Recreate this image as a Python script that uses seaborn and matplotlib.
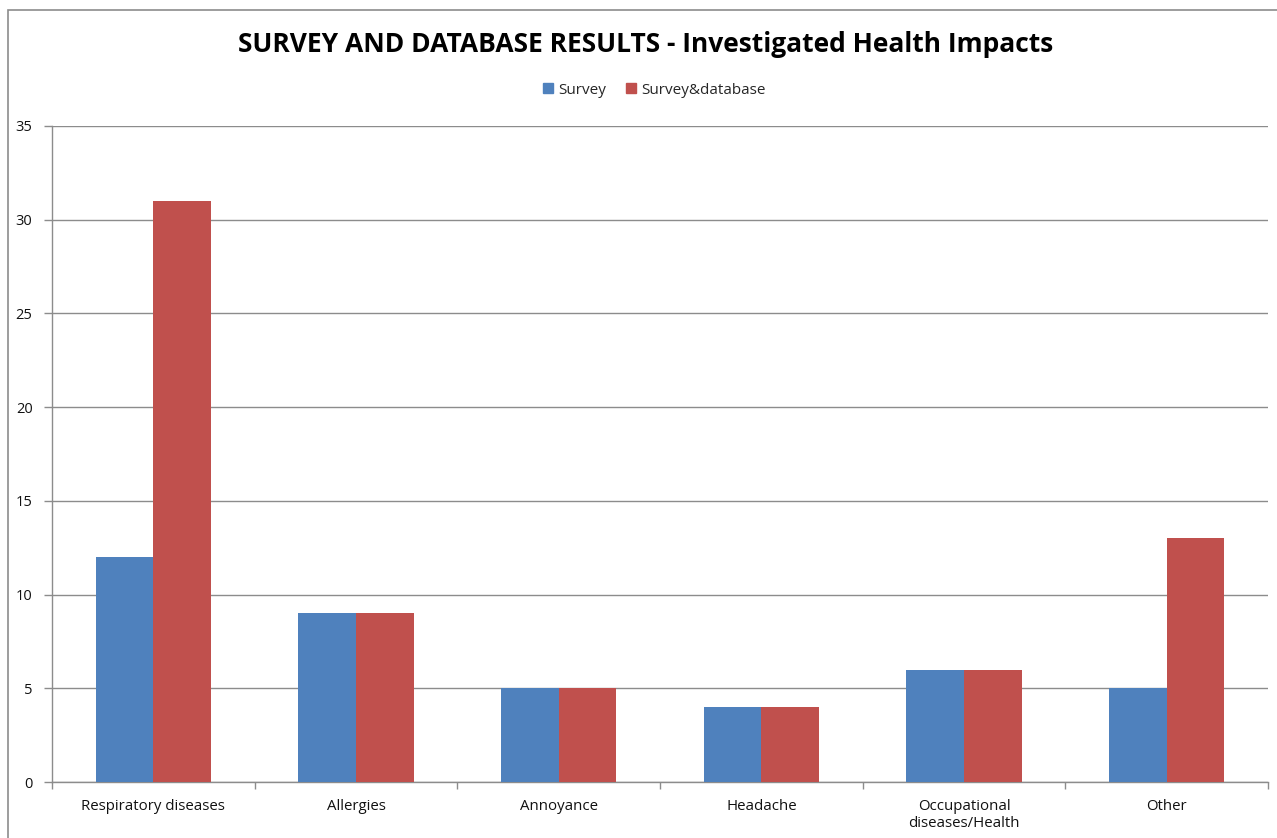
import matplotlib
matplotlib.use("Agg")
import matplotlib.pyplot as plt
from matplotlib.patches import Rectangle
import numpy as np
import pandas as pd
import seaborn as sns

categories = ["Respiratory diseases", "Allergies", "Annoyance", "Headache",
              "Occupational\ndiseases/Health", "Other"]
survey = [12, 9, 5, 4, 6, 5]
survey_database = [31, 9, 5, 4, 6, 13]
series_names = ["Survey", "Survey&database"]
y_ticks = [0, 5, 10, 15, 20, 25, 30, 35]
title = "SURVEY AND DATABASE RESULTS - Investigated Health Impacts"

df = pd.DataFrame({
    "category": categories * 2,
    "value": survey + survey_database,
    "series": [series_names[0]] * len(categories) + [series_names[1]] * len(categories),
})

sns.set_theme(style="white")
plt.rcParams["font.family"] = ["Open Sans", "DejaVu Sans"]

fig = plt.figure(figsize=(12.77, 8.38), dpi=100)
W, H = 1277, 838
ax = fig.add_axes([52 / W, 1 - 782 / H, (1268 - 52) / W, (782 - 126) / H])

palette = {"Survey": "#4F81BD", "Survey&database": "#C0504D"}
sns.barplot(data=df, x="category", y="value", hue="series", palette=palette,
            width=0.57, saturation=1, ax=ax, legend=False, zorder=3, linewidth=0)

ax.set_xlim(-0.5, len(categories) - 0.5)
ax.set_ylim(0, 35)
ax.set_yticks(y_ticks)
ax.set_yticklabels([str(t) for t in y_ticks], fontsize=10.5, color="#111111")
ax.yaxis.grid(True, color="#8c8c8c", linewidth=1, zorder=0)
ax.xaxis.grid(False)
ax.set_xlabel("")
ax.set_ylabel("")
ax.set_xticks(range(len(categories)))
ax.set_xticklabels(categories, fontsize=10.8, color="#111111", linespacing=1.2)
ax.tick_params(axis="x", which="major", length=0, pad=12)
ax.set_xticks(np.arange(-0.5, len(categories), 1.0), minor=True)
ax.tick_params(axis="x", which="minor", length=5, width=1, color="#8c8c8c", direction="out", bottom=True)
ax.tick_params(axis="y", which="major", length=6, width=1, color="#8c8c8c", direction="out", left=True, pad=8)

for side in ["top", "right"]:
    ax.spines[side].set_visible(False)
for side in ["left", "bottom"]:
    ax.spines[side].set_color("#8c8c8c")
    ax.spines[side].set_linewidth(1)

fig.text(646 / W, 1 - 45 / H, title, ha="center", va="center",
         fontsize=19, fontweight="bold", color="#000000")

# legend
handles = [Rectangle((0, 0), 1, 1, color=palette[s]) for s in series_names]
fig.legend(handles, series_names, loc="center", bbox_to_anchor=(654 / W, 1 - 90 / H),
           ncol=2, frameon=False, fontsize=11, handlelength=0.7, handleheight=0.7,
           handletextpad=0.3, columnspacing=1.3)

# outer chart frame
fig.patches.append(Rectangle((8 / W, -0.1), 1.2, 1 - 10 / H + 0.1,
                             transform=fig.transFigure, fill=False,
                             edgecolor="#8c8c8c", linewidth=1.2))

fig.savefig("out.png", dpi=100, facecolor="white")
